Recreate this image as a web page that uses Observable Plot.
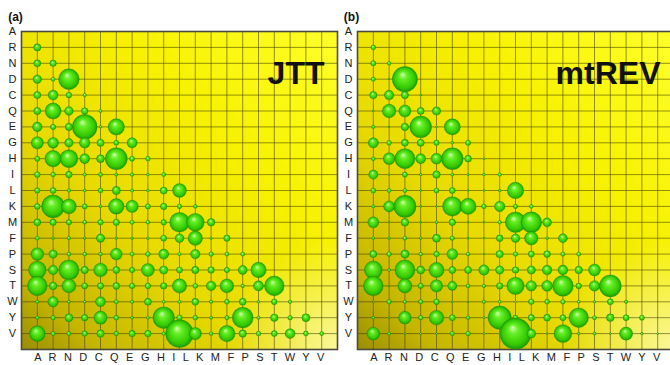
<!DOCTYPE html>
<html><head><meta charset="utf-8">
<script src="https://cdn.jsdelivr.net/npm/d3@7"></script>
<script src="https://cdn.jsdelivr.net/npm/@observablehq/plot@0.6"></script>
<style>
html,body{margin:0;padding:0;background:#fff;width:670px;height:365px;overflow:hidden;}
#wrap{position:relative;width:670px;height:365px;overflow:hidden;}
#wrap svg{position:absolute;top:0;}
</style></head><body><div id="wrap"></div>
<script>
const aminoAcids = ["A","R","N","D","C","Q","E","G","H","I","L","K","M","F","P","S","T","W","Y","V"];
const panelLetters = ["(a)","(b)"];
const modelNames = ["JTT","mtREV"];

// lower-triangle exchangeabilities, rows R..V, columns A..(row-1)
const jttRows = [
  [58],
  [54,45],
  [81,16,528],
  [56,113,34,10],
  [57,310,86,49,9],
  [105,29,58,767,5,323],
  [179,137,81,130,59,26,119],
  [27,328,391,112,69,597,26,23],
  [36,22,47,11,17,9,12,6,16],
  [30,38,12,7,23,72,9,6,56,229],
  [35,646,263,26,7,292,181,27,45,21,14],
  [54,44,30,15,31,43,18,14,33,479,388,65],
  [15,5,10,4,78,4,5,5,40,89,248,4,43],
  [194,74,15,15,14,164,18,24,115,10,102,21,16,17],
  [378,101,503,59,223,53,30,201,73,40,59,47,29,92,285],
  [475,64,232,38,42,51,32,33,46,245,25,103,226,12,118,477],
  [9,126,8,4,115,18,10,55,8,9,52,10,24,53,6,35,12],
  [11,20,70,46,209,24,7,8,573,32,24,8,18,536,10,63,21,71],
  [298,17,16,31,62,20,45,47,11,961,180,14,323,62,23,38,112,25,16]
];
const mtrevRows = [
  [23.18],
  [26.95,13.24],
  [17.67,1.90,794.38],
  [59.93,103.33,58.94,1.90],
  [1.90,220.99,173.56,55.28,75.24],
  [9.77,1.90,63.05,583.55,1.90,313.56],
  [120.71,23.03,53.30,56.77,30.71,6.75,28.28],
  [13.90,165.23,496.13,113.99,141.49,582.40,49.12,1.90],
  [96.49,1.90,27.10,4.34,62.73,8.34,3.31,5.98,12.26],
  [25.46,15.58,15.16,1.90,25.65,39.70,1.90,2.41,5.69,329.09],
  [8.36,141.40,608.70,2.31,1.90,465.58,313.86,22.73,127.67,19.57,14.88],
  [141.88,1.90,65.41,1.90,6.18,47.37,1.90,1.90,11.97,517.98,537.53,91.37],
  [6.37,4.69,15.20,4.98,70.80,19.11,2.67,1.90,48.16,84.67,216.06,6.44,90.82],
  [54.31,23.64,73.31,13.43,31.26,137.29,12.83,1.90,60.97,20.63,40.10,50.10,18.84,17.31],
  [387.86,6.04,494.39,69.02,277.05,54.11,54.71,125.93,77.46,47.70,73.61,105.79,111.16,64.29,169.90],
  [480.72,2.08,238.46,28.01,179.97,94.93,14.82,11.17,44.78,368.43,126.40,136.33,528.17,33.85,128.22,597.21],
  [1.90,21.95,10.68,19.86,33.60,1.90,1.90,10.92,7.08,1.90,32.44,24.00,21.71,7.84,4.21,38.58,9.99],
  [6.48,1.90,191.36,21.21,254.77,38.82,13.12,3.21,670.14,25.01,44.15,51.17,39.96,465.58,16.21,64.92,38.73,26.25],
  [195.06,7.64,1.90,1.90,1.90,19.00,21.14,2.53,1.90,1222.94,91.67,1.90,387.54,6.35,8.23,1.90,204.54,5.37,1.90]
];

function cells(rows) {
  const out = [];
  rows.forEach((vals, k) => vals.forEach((v, j) => out.push({row: k + 1, col: j, value: v})));
  return out;
}

const maxValue = d3.max([...jttRows.flat(), ...mtrevRows.flat()]);
const bottomLabel = aminoAcids.join(" ");

function panel(rows, name, letter, id, left) {
  const data = cells(rows);
  const svg = Plot.plot({
    width: 340, height: 365,
    marginLeft: 21, marginRight: 3, marginTop: 31, marginBottom: 16,
    x: {domain: [-1, 19], axis: null},
    y: {domain: [0, 20], reverse: true, axis: null},
    r: {type: "sqrt", domain: [0, maxValue], range: [0.3, 15.6]},
    style: {fontFamily: "'Liberation Sans', Arial, sans-serif", background: "transparent", maxWidth: "none"},
    marks: [
      Plot.frame({fill: `url(#bg-${id})`}),
      Plot.frame({fill: `url(#hl-${id})`}),
      Plot.ruleX(d3.range(-1, 20), {stroke: "#3a3a00", strokeOpacity: 0.55, strokeWidth: 1}),
      Plot.ruleY(d3.range(0, 21), {stroke: "#3a3a00", strokeOpacity: 0.55, strokeWidth: 1}),
      Plot.frame({stroke: "#4a4a40", strokeWidth: 1.6}),
      Plot.dot(data, {x: "col", y: "row", r: "value", fill: `url(#ball-${id})`, stroke: "#1f9400", strokeWidth: 0.4, sort: null}),
      Plot.text(aminoAcids, {y: (d, i) => i, text: d => d, frameAnchor: "left", dx: -9, textAnchor: "middle", fontSize: 11, fill: "#222"}),
      Plot.text([bottomLabel], {text: d => d, frameAnchor: "bottom-left", dx: 12.8, dy: 11, textAnchor: "start", fontSize: 11, fill: "#222"}),
      Plot.text([name], {text: d => d, frameAnchor: "top-right", dx: -13, dy: 30, textAnchor: "end", fontSize: 32, fontWeight: "bold", fill: "#111"}),
      Plot.text([letter], {text: d => d, frameAnchor: "top-left", dx: -6, dy: -19, textAnchor: "middle", fontSize: 12, fontWeight: "bold", fill: "#111"})
    ]
  });
  const defs = d3.select(svg).insert("defs", ":first-child");
  defs.html(`
    <linearGradient id="bg-${id}" x1="0" y1="1" x2="1" y2="0">
      <stop offset="0" stop-color="#9a8d00"/>
      <stop offset="0.12" stop-color="#c4b500"/>
      <stop offset="0.35" stop-color="#e6d900"/>
      <stop offset="0.65" stop-color="#f7f100"/>
      <stop offset="1" stop-color="#ffff2a"/>
    </linearGradient>
    <radialGradient id="hl-${id}" cx="1" cy="1" r="0.35">
      <stop offset="0" stop-color="#ffffd0" stop-opacity="0.75"/>
      <stop offset="1" stop-color="#ffffd0" stop-opacity="0"/>
    </radialGradient>
    <radialGradient id="ball-${id}" cx="0.5" cy="0.5" r="0.5" fx="0.4" fy="0.3">
      <stop offset="0" stop-color="#d6ffb4"/>
      <stop offset="0.3" stop-color="#66ef26"/>
      <stop offset="0.8" stop-color="#33c900"/>
      <stop offset="1" stop-color="#1e9800"/>
    </radialGradient>`);
  d3.select(svg).selectAll("text").filter(function() { return this.textContent === bottomLabel; })
    .attr("letter-spacing", "2.2px");
  svg.style.left = left + "px";
  document.getElementById("wrap").appendChild(svg);
}

panel(jttRows, modelNames[0], panelLetters[0], "a", 0);
panel(mtrevRows, modelNames[1], panelLetters[1], "b", 336);
</script></body></html>
